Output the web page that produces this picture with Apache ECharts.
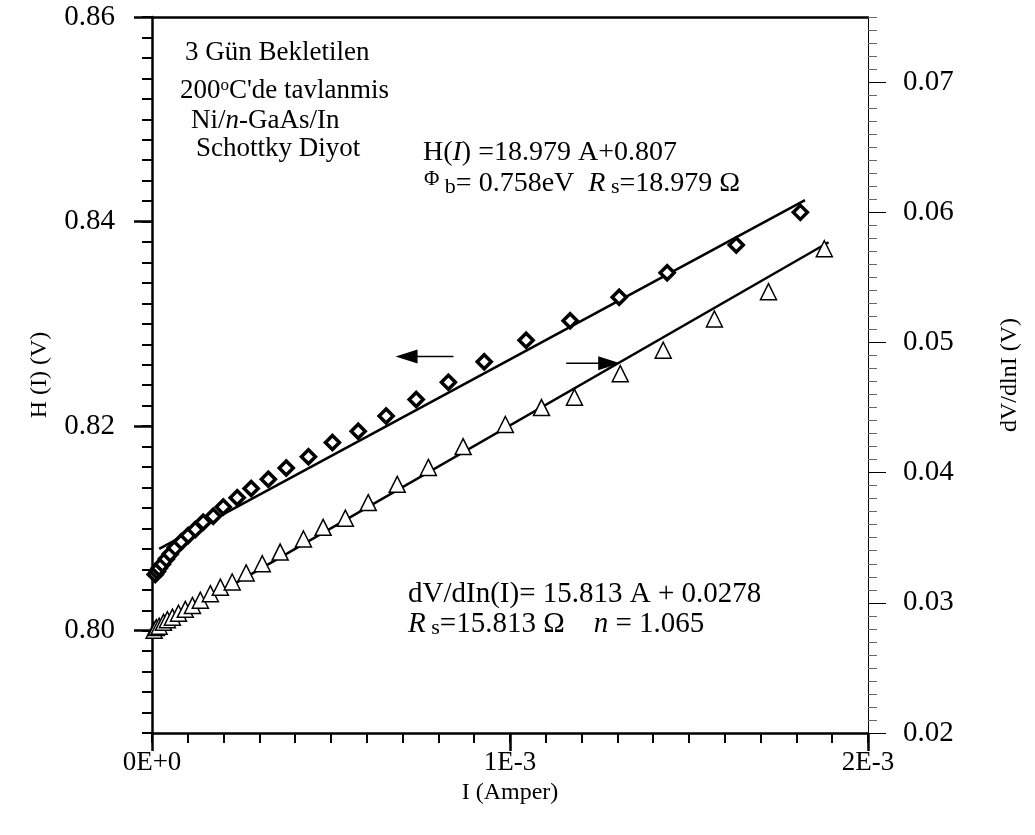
<!DOCTYPE html>
<html><head><meta charset="utf-8">
<script src="https://cdn.jsdelivr.net/npm/echarts@6/dist/echarts.min.js"></script>
<style>html,body{margin:0;padding:0;background:#fff}#c{width:1035px;height:835px}</style>
</head><body><div id="c"></div>
<script>
// H(I) data (diamonds, left axis)
const hI = [0.000009,0.000015,0.00002,0.000029,0.00004,0.000051,0.000065,0.000082,0.000101,0.000121,0.000143,0.000171,0.000199,0.000238,0.000277,0.000325,0.000375,0.000437,0.000504,0.000576,0.000654,0.000738,0.000828,0.000928,0.001045,0.001168,0.001305,0.001439,0.001632,0.001811];
const hV = [0.8055,0.8058,0.8061,0.8065,0.8070,0.8075,0.8081,0.8087,0.8093,0.8099,0.8106,0.8112,0.8121,0.8130,0.8139,0.8148,0.8159,0.8170,0.8184,0.8195,0.8210,0.8226,0.8243,0.8263,0.8284,0.8303,0.8326,0.8350,0.8377,0.8409];
// dV/dlnI data (triangles, right axis)
const tI = [0.000006,0.000012,0.00002,0.000032,0.000043,0.000057,0.000074,0.000093,0.000113,0.000135,0.000163,0.000191,0.000224,0.000263,0.000308,0.000358,0.000423,0.000478,0.00054,0.000604,0.000685,0.000772,0.000869,0.000987,0.001088,0.00118,0.001308,0.001428,0.001571,0.001722,0.001878];
const tV = [0.0279,0.0281,0.0282,0.0285,0.0287,0.0289,0.0292,0.0295,0.0298,0.0302,0.0307,0.0312,0.0316,0.0323,0.0330,0.0339,0.0349,0.0358,0.0365,0.0377,0.0391,0.0404,0.0420,0.0437,0.0450,0.0458,0.0476,0.0494,0.0518,0.0539,0.0572];
// fit lines
const hFitI = [0.00002, 0.001824];
const hFitV = [0.8080, 0.8421];
const tFitI = [0.000005, 0.00189];
const tFitV = [0.0279, 0.0577];
// arrows: [tail, head centre]
const arrowH = [[0.000842, 0.8268], [0.000711, 0.8268]];
const arrowT = [[0.001157, 0.0484], [0.001277, 0.0484]];
// tick labels
const xMajor = [0, 0.001, 0.002];
const xLabels = ['0E+0', '1E-3', '2E-3'];
const yLeftMajor = [0.80, 0.82, 0.84, 0.86];
const yRightMajor = [0.02, 0.03, 0.04, 0.05, 0.06, 0.07];

const F = 'Liberation Serif, Times New Roman, serif';
const chart = echarts.init(document.getElementById('c'), null, {renderer: 'canvas'});
const zip = (a, b) => a.map((v, i) => [v, b[i]]);

const baseX = {type: 'value', min: 0, max: 0.002, gridIndex: 0, splitLine: {show: false}};
const baseYL = {type: 'value', position: 'left', min: 0.79, max: 0.86, splitLine: {show: false}};
const baseYR = {type: 'value', position: 'right', min: 0.02, max: 0.075, splitLine: {show: false}};
const option = {
  animation: false,
  backgroundColor: '#fff',
  grid: {left: 152, right: 167, top: 17, bottom: 102, containLabel: false},
  xAxis: [
    Object.assign({}, baseX, {position: 'bottom', interval: 0.0001,
      axisLine: {show: true, onZero: false, lineStyle: {color: '#000', width: 2.5}},
      axisTick: {show: true, inside: false, length: 10, lineStyle: {color: '#000', width: 2}},
      axisLabel: {show: false}}),
    Object.assign({}, baseX, {position: 'bottom', interval: 0.001,
      axisLine: {show: false, onZero: false},
      axisTick: {show: true, length: 18, lineStyle: {color: '#000', width: 2.5}},
      axisLabel: {show: true, margin: 16, color: '#000', fontFamily: F, fontSize: 27,
        formatter: v => { const k = xMajor.findIndex(m => Math.abs(m - v) < 1e-9); return k >= 0 ? xLabels[k] : ''; }},
      name: 'I (Amper)', nameLocation: 'middle', nameGap: 46,
      nameTextStyle: {color: '#000', fontFamily: F, fontSize: 24}}),
    Object.assign({}, baseX, {position: 'top',
      axisLine: {show: true, onZero: false, lineStyle: {color: '#000', width: 2.5}},
      axisTick: {show: false}, axisLabel: {show: false}})
  ],
  yAxis: [
    Object.assign({}, baseYL, {interval: 0.002,
      axisLine: {show: true, onZero: false, lineStyle: {color: '#000', width: 2.5}},
      axisTick: {show: true, length: 10, lineStyle: {color: '#000', width: 2}},
      axisLabel: {show: false},
      name: 'H (I) (V)', nameLocation: 'middle', nameGap: 100, nameRotate: 90,
      nameTextStyle: {color: '#000', fontFamily: F, fontSize: 24}}),
    Object.assign({}, baseYR, {interval: 0.001,
      axisLine: {show: true, onZero: false, lineStyle: {color: '#000', width: 1}},
      axisTick: {show: true, length: 9, lineStyle: {color: '#666', width: 1}},
      axisLabel: {show: false},
      name: 'dV/dlnI (V)', nameLocation: 'middle', nameGap: 130, nameRotate: 90,
      nameTextStyle: {color: '#000', fontFamily: F, fontSize: 24}}),
    Object.assign({}, baseYL, {
      axisLine: {show: false, onZero: false},
      axisTick: {show: true, length: 18, customValues: yLeftMajor, lineStyle: {color: '#000', width: 2.5}},
      axisLabel: {show: true, margin: 37, color: '#000', fontFamily: F, fontSize: 29, customValues: yLeftMajor,
        formatter: v => v.toFixed(2)}}),
    Object.assign({}, baseYR, {
      axisLine: {show: false, onZero: false},
      axisTick: {show: true, length: 18, customValues: yRightMajor, lineStyle: {color: '#000', width: 1}},
      axisLabel: {show: true, margin: 35, color: '#000', fontFamily: F, fontSize: 29, customValues: yRightMajor,
        formatter: v => v.toFixed(2)}})
  ],
  series: [
    {type: 'line', xAxisIndex: 0, yAxisIndex: 0, data: zip(hFitI, hFitV), symbol: 'none',
      lineStyle: {color: '#000', width: 2.5}, z: 2},
    {type: 'line', xAxisIndex: 0, yAxisIndex: 1, data: zip(tFitI, tFitV), symbol: 'none',
      lineStyle: {color: '#000', width: 2.5}, z: 2},
    {type: 'scatter', xAxisIndex: 0, yAxisIndex: 0, data: zip(hI, hV), symbol: 'diamond', symbolSize: 14,
      itemStyle: {color: '#fff', borderColor: '#000', borderWidth: 3.5, opacity: 1}, z: 3},
    {type: 'scatter', xAxisIndex: 0, yAxisIndex: 1, data: zip(tI, tV), symbol: 'triangle', symbolSize: 16,
      itemStyle: {color: '#fff', borderColor: '#000', borderWidth: 1.5, opacity: 1}, z: 3},
    {type: 'line', xAxisIndex: 0, yAxisIndex: 0, data: arrowH, symbol: 'none', lineStyle: {color: '#000', width: 1.5}, z: 4},
    {type: 'line', xAxisIndex: 0, yAxisIndex: 1, data: arrowT, symbol: 'none', lineStyle: {color: '#000', width: 1.5}, z: 4},
    {type: 'scatter', xAxisIndex: 0, yAxisIndex: 0, data: [arrowH[1]], symbol: 'triangle', symbolSize: [14, 22], symbolRotate: 90,
      itemStyle: {color: '#000', opacity: 1}, z: 5},
    {type: 'scatter', xAxisIndex: 0, yAxisIndex: 1, data: [arrowT[1]], symbol: 'triangle', symbolSize: [14, 22], symbolRotate: -90,
      itemStyle: {color: '#000', opacity: 1}, z: 5}
  ],
  graphic: [
    {type: 'text', left: 185, top: 39, style: {text: '3 Gün Bekletilen', font: '27px ' + F, fill: '#000'}},
    {type: 'text', left: 180, top: 77, style: {rich: {
        a: {font: '27px ' + F, fill: '#000'}, s: {font: '17px ' + F, fill: '#000', verticalAlign: 'top', padding: [0,0,10,0]}},
        text: '{a|200}{s|o}{a|C\'de tavlanmis}'}},
    {type: 'text', left: 191, top: 107, style: {rich: {
        a: {font: '27px ' + F, fill: '#000'}, i: {font: 'italic 27px ' + F, fill: '#000'}},
        text: '{a|Ni/}{i|n}{a|-GaAs/In}'}},
    {type: 'text', left: 196, top: 135, style: {text: 'Schottky Diyot', font: '27px ' + F, fill: '#000'}},
    {type: 'text', left: 423, top: 139, style: {rich: {
        a: {font: '28px ' + F, fill: '#000'}, i: {font: 'italic 28px ' + F, fill: '#000'}},
        text: '{a|H(}{i|I}{a|) =18.979 A+0.807}'}},
    {type: 'text', left: 424, top: 169, style: {rich: {
        a: {font: '28px ' + F, fill: '#000'}, i: {font: 'italic 28px ' + F, fill: '#000'},
        sb: {font: '22px ' + F, fill: '#000', padding: [8,0,0,0]}, p: {font: '21px ' + F, fill: '#000', padding: [0,0,8,0]}},
        text: '{p|Φ}{sb| b}{a|= 0.758eV  }{i|R}{sb| s}{a|=18.979 Ω}'}},
    {type: 'text', left: 408, top: 580, style: {text: 'dV/dIn(I)= 15.813 A + 0.0278', font: '29px ' + F, fill: '#000'}},
    {type: 'text', left: 408, top: 610, style: {rich: {
        a: {font: '29px ' + F, fill: '#000'}, i: {font: 'italic 29px ' + F, fill: '#000'},
        sb: {font: '22px ' + F, fill: '#000', padding: [8,0,0,0]}},
        text: '{i|R}{sb| s}{a|=15.813 Ω    }{i|n}{a| = 1.065}'}}
  ]
};
chart.setOption(option);
</script></body></html>
